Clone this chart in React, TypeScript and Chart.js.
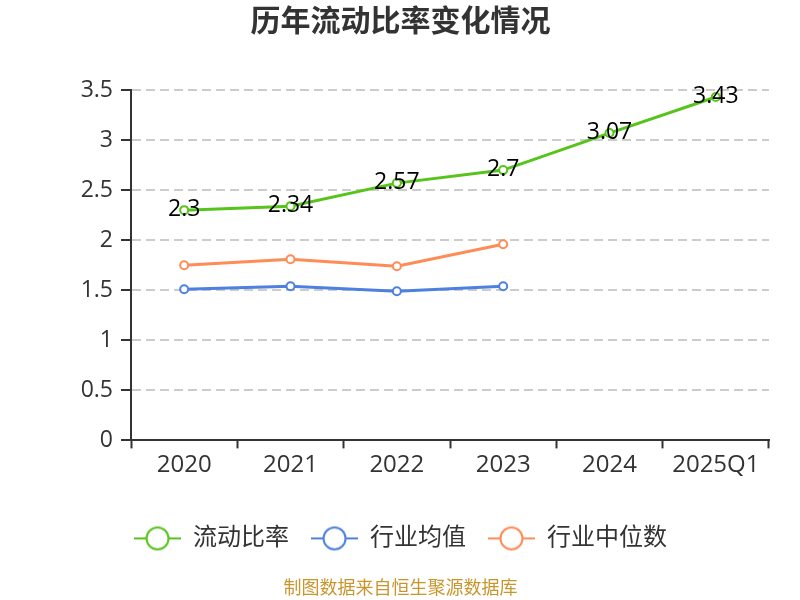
import React, { useEffect, useRef } from 'react';
import { Chart, registerables } from 'chart.js';

Chart.register(...registerables);

const years = ['2020', '2021', '2022', '2023', '2024', '2025Q1'];
const currentRatio = [2.3, 2.34, 2.57, 2.7, 3.07, 3.43];
const industryAvg = [1.51, 1.54, 1.49, 1.54, null, null];
const industryMedian = [1.75, 1.81, 1.74, 1.96, null, null];
const seriesNames = ['流动比率', '行业均值', '行业中位数'];
const colors = ['#57c41c', '#4d80e0', '#ff8c56'];

const FONT = '"Open Sans", "Noto Sans CJK SC", sans-serif';

// legend icon: short line with a hollow circle in the middle
function legendIcon(color: string) {
  const c = document.createElement('canvas');
  c.width = 47;
  c.height = 26;
  const ctx = c.getContext('2d');
  if (ctx) {
    ctx.strokeStyle = color;
    ctx.lineWidth = 2;
    ctx.beginPath();
    ctx.moveTo(0, 13);
    ctx.lineTo(47, 13);
    ctx.stroke();
    ctx.beginPath();
    ctx.arc(23.5, 13, 11, 0, Math.PI * 2);
    ctx.fillStyle = '#fff';
    ctx.fill();
    ctx.stroke();
  }
  return c;
}

// value labels drawn over the first series' points
const valueLabels = {
  id: 'valueLabels',
  afterDatasetsDraw(chart: any) {
    const ctx = chart.ctx;
    const meta = chart.getDatasetMeta(0);
    ctx.save();
    ctx.font = '23px ' + FONT;
    ctx.fillStyle = '#000';
    ctx.textAlign = 'center';
    ctx.textBaseline = 'middle';
    meta.data.forEach((pt: any, i: number) => {
      ctx.fillText(String(currentRatio[i]), pt.x, pt.y - 1);
    });
    ctx.restore();
  },
};

const App: React.FC = () => {
  const chartRef = useRef<HTMLCanvasElement>(null);

  useEffect(() => {
    if (!chartRef.current) return;
    const ctx = chartRef.current.getContext('2d');
    if (!ctx) return;

    const icons = colors.map(legendIcon);
    const data = [currentRatio, industryAvg, industryMedian];

    const chart = new Chart(ctx, {
      type: 'line',
      data: {
        labels: years,
        datasets: data.map((d, i) => ({
          label: seriesNames[i],
          data: d,
          borderColor: colors[i],
          backgroundColor: '#fff',
          borderWidth: 3,
          pointRadius: 4,
          pointBorderWidth: 2,
          pointBackgroundColor: '#fff',
          pointBorderColor: colors[i],
          tension: 0,
          spanGaps: false,
        })),
      },
      options: {
        responsive: false,
        animation: false,
        layout: { padding: { left: 32, right: 31, top: 0, bottom: 0 } },
        plugins: {
          title: {
            display: true,
            text: '历年流动比率变化情况',
            color: '#333',
            font: { family: FONT, size: 30, weight: 'bold' },
            padding: { top: 4, bottom: 50 },
          },
          subtitle: {
            display: true,
            position: 'bottom',
            text: '制图数据来自恒生聚源数据库',
            color: '#c9962e',
            font: { family: FONT, size: 18 },
            padding: { top: 18, bottom: 0 },
          },
          legend: {
            position: 'bottom',
            labels: {
              usePointStyle: true,
              pointStyleWidth: 47,
              padding: 22,
              color: '#333',
              font: { family: FONT, size: 24 },
              generateLabels: (c: any) =>
                c.data.datasets.map((ds: any, i: number) => ({
                  text: ds.label,
                  pointStyle: icons[i],
                  fillStyle: '#fff',
                  strokeStyle: colors[i],
                  lineWidth: 0,
                  fontColor: '#333',
                  hidden: false,
                  datasetIndex: i,
                })),
            },
          },
          tooltip: { enabled: false },
        },
        scales: {
          x: {
            offset: true,
            afterFit: (scale: any) => {
              scale.height = 64;
            },
            grid: {
              offset: true,
              drawOnChartArea: false,
              drawTicks: true,
              tickLength: 8,
              tickColor: '#333',
              tickWidth: 2,
            },
            border: { color: '#333', width: 2 },
            ticks: { color: '#333', font: { family: FONT, size: 24 }, padding: 2 },
          },
          y: {
            min: 0,
            max: 3.5,
            afterFit: (scale: any) => {
              scale.width = 99;
            },
            ticks: {
              stepSize: 0.5,
              color: '#333',
              font: { family: FONT, size: 23 },
              padding: 8,
              callback: (v: any) => String(v),
            },
            grid: {
              color: '#cccccc',
              lineWidth: 2,
              tickBorderDash: [],
              tickColor: '#333',
              tickWidth: 2,
              tickLength: 10,
            },
            border: { color: '#333', width: 2, dash: [9, 5] },
          },
        },
      },
      plugins: [valueLabels],
    });

    return () => {
      chart.destroy();
    };
  }, []);

  return (
    <div style={{ position: 'absolute', left: 0, top: 0, width: 800, height: 600, background: '#fff' }}>
      <canvas ref={chartRef} width={800} height={600}></canvas>
    </div>
  );
};

export default App;
